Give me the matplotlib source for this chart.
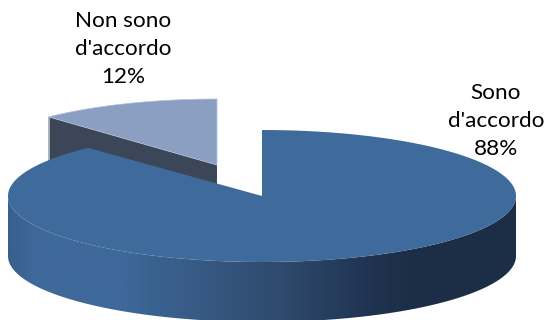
#!/usr/bin/python3
import numpy as np
import matplotlib
matplotlib.use('Agg')
from matplotlib import pyplot as plt
from matplotlib.colors import LinearSegmentedColormap
from matplotlib.patches import Polygon

labels = ["Sono\nd'accordo", "Non sono\nd'accordo"]
values = [88, 12]

plt.rcParams['font.family'] = ['Lato', 'DejaVu Sans']

# pie geometry, in pixels
CX, CY = 262, 196
RX, RY = 254, 66
DEPTH = 60
# the small slice is pulled out towards the back and looks a bit narrower
EXPLODE_X, EXPLODE_Y = -45, -31
SMALL_RX = 246


def rim(start, end, cx, cy, rx, ry, n=200):
    # angles in degrees, clockwise from 12 o'clock
    t = np.radians(np.linspace(start, end, n))
    return np.column_stack([cx + rx * np.sin(t), cy - ry * np.cos(t)])


fig = plt.figure(figsize=(5.46, 3.2), dpi=100)
ax = fig.add_axes([0, 0, 1, 1])
ax.set_xlim(0, 546)
ax.set_ylim(320, 0)
ax.axis('off')

big_end = 360 * values[0] / sum(values)

# small slice, the cut face first and the top over it
sx, sy = CX + EXPLODE_X, CY + EXPLODE_Y
small_rim = rim(big_end, 360, sx, sy, SMALL_RX, RY)
corner = small_rim[0]
cut = [corner, (sx, sy), (sx, sy + DEPTH), (corner[0], corner[1] + DEPTH)]
ax.add_patch(Polygon(cut, closed=True, fc='#3b4658', ec='none', zorder=1))
ax.plot([corner[0], corner[0]], [corner[1], corner[1] + DEPTH], color='#b9bec8', lw=0.6, zorder=1)
ax.add_patch(Polygon(np.vstack([[(sx, sy)], small_rim]), closed=True,
                     fc='#8a9fc2', ec='#b4c2d9', lw=0.5, zorder=2))

# side wall of the big slice, shaded from left to right
wall_top = rim(90, 270, CX, CY, RX, RY)
wall_bottom = wall_top[::-1] + [0, DEPTH]
wall = Polygon(np.vstack([wall_top, wall_bottom]), closed=True, fc='none', ec='none')
ax.add_patch(wall)
stops = [(0.0, '#38608e'), (0.05, '#3e699a'), (0.22, '#3e699a'),
         (0.53, '#2f4b6e'), (0.72, '#1f3350'), (0.80, '#1c2e45'), (1.0, '#1c2e45')]
shade = LinearSegmentedColormap.from_list('wall', stops)
im = ax.imshow(np.linspace(0, 1, 512).reshape(1, -1), cmap=shade, aspect='auto',
               extent=(CX - RX, CX + RX, CY + RY + DEPTH, CY - RY), zorder=3)
im.set_clip_path(wall)
ax.set_xlim(0, 546)
ax.set_ylim(320, 0)

# top of the big slice
big_rim = rim(0, big_end, CX, CY, RX, RY, n=600)
ax.add_patch(Polygon(np.vstack([[(CX, CY)], big_rim]), closed=True,
                     fc='#3f6a9c', ec='none', zorder=4))

ax.text(496, 121, "%s\n%d%%" % (labels[0], values[0]), ha='center', va='center',
        fontsize=16.2, linespacing=1.53, color='black', zorder=5)
ax.text(123, 49, "%s\n%d%%" % (labels[1], values[1]), ha='center', va='center',
        fontsize=16.2, linespacing=1.53, color='black', zorder=5)

fig.savefig('out.png', dpi=100)
